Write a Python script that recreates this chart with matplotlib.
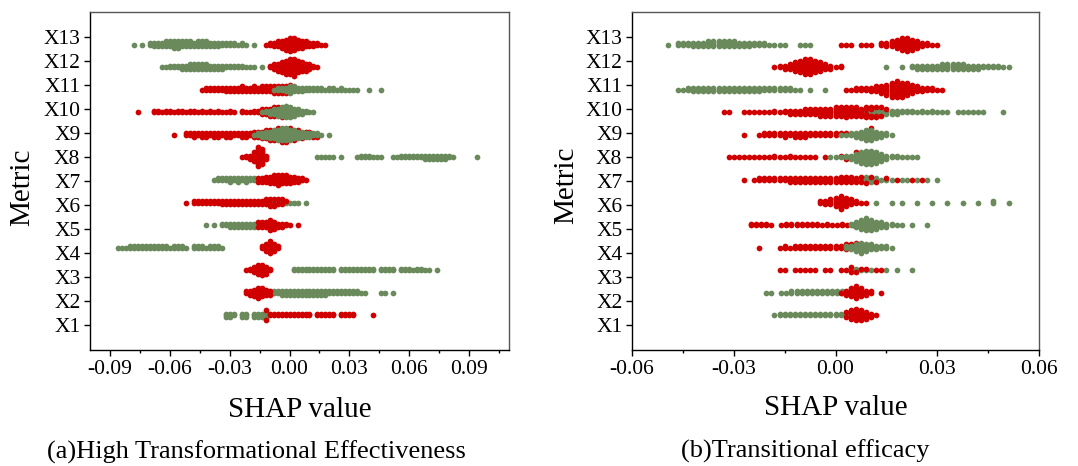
import numpy as np
import matplotlib.pyplot as plt
from matplotlib.ticker import MultipleLocator, FormatStrFormatter

plt.rcParams['font.family'] = ['Liberation Serif', 'DejaVu Serif']
plt.rcParams['axes.unicode_minus'] = False

metrics = ["X1", "X2", "X3", "X4", "X5", "X6", "X7", "X8", "X9", "X10", "X11", "X12", "X13"]

GREEN = "#6a8a5c"
RED = "#d00000"

# (a) High Transformational Effectiveness -- bin width 0.002
# each cluster: first bin centre + number of points in each following bin
step_a = 0.002
a_green_start = [-0.032, -0.010, 0.002, -0.086, -0.042, -0.012, -0.038, 0.014, -0.018, -0.014, -0.008, -0.064, -0.078]
a_green_counts = [
    [3, 3, 2, 0, 3, 3, 0, 3, 3, 3, 5],
    [1, 2, 2] + [3] * 12 + [2] * 8 + [1, 1, 0, 0, 0, 1, 1, 0, 1],
    [2] * 11 + [0] + [2] * 9 + [0] + [2] * 4 + [0] + [2, 2, 2, 1, 2, 2, 1, 1, 0, 1],
    [1, 1, 1, 2, 2, 2, 2, 2, 2, 2, 2, 2, 2, 1, 2, 2, 2, 1, 0, 2, 2, 2, 1, 2, 2, 2, 1],
    [1, 0, 1, 0, 2, 2, 3, 3, 3, 3, 3, 3, 3, 2, 1],
    [1, 2, 2, 2, 2, 1, 1, 1, 1, 0, 1],
    [1, 2, 2, 2, 3, 2, 3, 2, 3, 2, 2, 1],
    [1, 1, 1, 1, 1, 0, 1, 0, 0, 0, 1, 2, 2, 2, 1, 1, 1, 0, 0, 1, 1, 2, 2, 2, 2, 2, 2,
     3, 3, 3, 3, 3, 3, 2, 1, 0, 0, 0, 0, 0, 1],
    [1, 2, 3, 4, 5, 6, 7, 8, 8, 7, 6, 5, 4, 3, 3, 2, 2, 1, 0, 1],
    [1, 2, 3, 4, 5, 6, 8, 7, 5, 4, 3, 2, 1, 1],
    [1, 2, 2, 3, 5, 4, 3, 3, 2, 2, 2, 2, 2, 1, 2, 2, 1, 2, 1, 1, 1, 1, 0, 0, 1, 0, 0, 1],
    [1, 1, 2, 2, 2, 3, 3, 4, 4, 4, 4, 4, 3, 3, 3, 3, 2, 2, 2, 2, 2, 1, 1, 1, 0, 1],
    [1, 0, 1, 0, 2, 3, 3, 3, 4, 4, 5, 5, 4, 4, 4, 3, 4, 4, 4, 3, 3, 3, 2, 2, 2, 2, 1, 2, 1, 0, 1],
]
a_red_start = [-0.012, -0.022, -0.022, -0.014, -0.016, -0.052, -0.016, -0.024, -0.058, -0.076, -0.044, -0.010, -0.012]
a_red_counts = [
    [2] * 12 + [0] + [2] * 5 + [0] + [2] * 4 + [0, 0, 0, 0, 1],
    [2, 3, 5, 7, 6, 4, 2],
    [1, 2, 4, 6, 7, 5, 2],
    [2, 5, 8, 5, 2],
    [2, 3, 4, 7, 5, 3, 3, 2, 1, 0, 1],
    [1, 0, 2, 2, 2, 2, 2, 2, 2, 3, 3, 3, 3, 3, 3, 3, 3, 3, 3, 3, 3, 3, 3, 2, 2, 1],
    [2, 3, 4, 5, 6, 7, 6, 6, 5, 4, 3, 2, 1],
    [1, 2, 3, 6, 12, 10, 3],
    [1, 0, 0, 2, 2, 3, 2, 3, 3, 2, 3, 3, 2, 3, 3, 2, 2, 3, 3, 2, 3, 2, 2, 2, 2] + [1] * 12,
    [1, 0, 0, 0, 2, 2, 1, 2, 2, 1, 2, 2, 1, 2, 2, 1, 2, 1, 2, 1, 2, 1, 1, 2, 1, 0, 2, 1, 1,
     2, 2, 3, 2, 2, 2, 1, 1],
    [1, 2, 2, 2, 2, 2, 3, 3, 3, 3, 4, 3, 3, 4, 3, 4, 4, 4, 4, 3, 3, 2, 1],
    [2, 4, 5, 7, 9, 10, 11, 8, 6, 5, 4, 2, 1],
    [1, 2, 3, 4, 5, 7, 9, 8, 6, 5, 4, 3, 3, 2, 1, 1],
]
a_green_on_top = ["X9", "X10", "X11"]

# (b) Transitional efficacy -- bin width 0.0015
step_b = 0.0015
b_green_start = [-0.018, -0.0205, 0.0045, 0.003, 0.0045, 0.012, 0.0075, -0.0015, 0.0015, 0.009, -0.0465, 0.015, -0.0495]
b_green_counts = [
    [1, 2, 2, 2, 2, 2, 2, 2, 2, 2, 2, 2, 2, 2, 2, 1],
    [1, 1, 0, 1, 1, 2, 2, 2, 2, 2, 2, 2, 2, 2, 2, 2, 1, 1],
    [2, 2, 1, 1, 1, 0, 0, 1, 0, 1, 0, 0, 1],
    [2, 3, 5, 7, 5, 4, 3, 2, 2, 1],
    [2, 4, 6, 8, 7, 5, 4, 3, 2, 1, 1, 0, 1, 0, 0, 1],
    [1, 0, 0, 1, 0, 1, 0, 0, 1, 0, 0, 1, 0, 0, 1, 0, 0, 1, 0, 0, 1, 0, 0, 2, 0, 0, 1],
    [2, 4, 3, 2, 1, 1, 1, 0, 1, 1, 0, 1, 0, 1, 0, 1],
    [1, 1, 1, 2, 3, 5, 7, 9, 9, 7, 5, 3, 2, 2, 1, 1, 1, 1],
    [1, 1, 2, 3, 5, 7, 7, 5, 3, 2, 1],
    [2, 3, 4, 4, 3, 3, 3, 2, 2, 2, 1, 2, 1, 2, 1, 1, 1, 0, 1, 1, 1, 1, 1, 1, 0, 0, 0, 1],
    [1, 1, 2, 3, 3, 3, 3, 3, 3, 3, 3, 3, 3, 3, 3, 3, 3, 2, 2, 2, 2, 2, 2, 1, 1, 0, 1, 0, 0, 1],
    [1, 0, 0, 1, 0, 2, 3, 3, 3, 3, 3, 4, 4, 4, 4, 4, 3, 3, 3, 2, 2, 2, 2, 1, 1],
    [1, 0, 2, 2, 2, 3, 3, 3, 4, 4, 4, 4, 4, 4, 3, 3, 3, 2, 2, 2, 1, 1, 1, 1, 0, 0, 1, 1, 1],
]
b_red_start = [0.003, 0.0015, -0.0165, -0.0225, -0.025, -0.0045, -0.027, -0.0315, -0.027, -0.033, 0.003, -0.018, 0.0015]
b_red_counts = [
    [2, 5, 8, 7, 5, 3, 1],
    [1, 3, 6, 8, 6, 3, 2, 0, 1],
    [1, 1, 0, 1, 1, 1, 1, 1, 0, 1, 1, 0, 1, 1, 2, 1, 1, 1, 0, 1, 1],
    [1, 0, 0, 0, 1, 2, 1, 2, 2, 2, 2, 2, 2, 2, 2, 2, 2, 2, 1, 1],
    [2, 2, 2, 2, 1, 0, 1, 2, 2, 2, 2, 2, 2, 2, 1, 2, 1, 1, 2, 1, 1],
    [2, 3, 4, 6, 9, 6, 4, 2, 1, 1],
    [1, 0, 1, 2, 2, 2, 2, 2, 2, 3, 3, 3, 3, 3, 3, 3, 3, 3, 3, 4, 4, 4, 3, 2, 1, 1, 1, 0, 1, 0,
     1, 0, 0, 1, 0, 1],
    [1, 1, 1, 1, 1, 1, 1, 1, 1, 2, 1, 1, 2, 1, 1, 1, 1, 1, 0, 1, 0, 0, 1, 1, 0, 1],
    [1, 0, 0, 1, 2, 2, 2, 2, 3, 2, 3, 3, 3, 2, 2, 2, 2, 2, 2, 1, 1, 0, 0, 0, 0, 1],
    [1, 1, 0, 0, 1, 1, 1, 1, 1, 1, 2, 1, 2, 3, 3, 3, 4, 4, 4, 5, 5, 5, 6, 6, 7, 6, 6, 5, 5, 4,
     3, 2, 1],
    [1, 1, 2, 2, 2, 3, 4, 5, 7, 9, 10, 9, 8, 6, 4, 3, 2, 2, 1, 1],
    [1, 2, 3, 4, 6, 8, 10, 10, 8, 6, 4, 3, 1, 2],
    [1, 1, 1, 0, 1, 1, 1, 0, 2, 3, 4, 6, 8, 9, 7, 5, 3, 2, 1, 1],
]
b_green_on_top = ["X8", "X9", "X5", "X4"]

# swarm rows sit a bit off the tick marks in the original figure
row_first = 1.40
row_gap = 0.94
layer_h = 0.07


def draw_swarm(ax, step, g_start, g_counts, r_start, r_counts, green_top):
    for i, name in enumerate(metrics):
        y0 = row_first + row_gap * i
        filled = {}
        pts = {GREEN: ([], []), RED: ([], [])}
        for start, counts, col in ((g_start[i], g_counts[i], GREEN), (r_start[i], r_counts[i], RED)):
            for k, c in enumerate(counts):
                x = start + k * step
                key = round(x * 1e5)
                for _ in range(c):
                    n = filled.get(key, 0)
                    off = np.ceil(n / 2) * (1 if n % 2 else -1)
                    filled[key] = n + 1
                    pts[col][0].append(x)
                    pts[col][1].append(y0 + off * layer_h)
        z_green = 3 if name in green_top else 2
        ax.scatter(pts[GREEN][0], pts[GREEN][1], s=17, c=GREEN, linewidths=0, zorder=z_green)
        ax.scatter(pts[RED][0], pts[RED][1], s=17, c=RED, linewidths=0, zorder=2.5)


def style_axes(ax, xlim, major):
    ax.set_xlim(*xlim)
    ax.set_ylim(-0.04, 14.04)
    ax.xaxis.set_major_locator(MultipleLocator(major))
    ax.xaxis.set_minor_locator(MultipleLocator(major / 2))
    ax.xaxis.set_major_formatter(FormatStrFormatter('%.2f'))
    ax.set_yticks(range(1, 14))
    ax.set_yticklabels(metrics)
    ax.tick_params(axis='both', which='major', direction='out', length=4, width=1,
                   labelsize=15.5, pad=3, top=False, right=False)
    ax.tick_params(axis='x', which='minor', direction='out', length=2.5, width=1, top=False)
    for sp in ax.spines.values():
        sp.set_linewidth(1)
    ax.spines['top'].set_color('#555555')
    ax.spines['right'].set_color('#555555')


fig = plt.figure(figsize=(10.78, 4.66), dpi=100)
ax_a = fig.add_axes([0.0835, 0.2489, 0.3887, 0.7253])
ax_b = fig.add_axes([0.5863, 0.2489, 0.3776, 0.7253])

draw_swarm(ax_a, step_a, a_green_start, a_green_counts, a_red_start, a_red_counts, a_green_on_top)
draw_swarm(ax_b, step_b, b_green_start, b_green_counts, b_red_start, b_red_counts, b_green_on_top)
style_axes(ax_a, (-0.10, 0.11), 0.03)
style_axes(ax_b, (-0.06, 0.06), 0.03)

fig.text(300 / 1078, 1 - 410 / 466, "SHAP value", ha='center', va='center', fontsize=21)
fig.text(836 / 1078, 1 - 408 / 466, "SHAP value", ha='center', va='center', fontsize=21)
fig.text(22 / 1078, 1 - 187 / 466, "Metric", ha='center', va='center', rotation=90, fontsize=21)
fig.text(566 / 1078, 1 - 185 / 466, "Metric", ha='center', va='center', rotation=90, fontsize=21)
fig.text(256 / 1078, 1 - 452 / 466, "(a)High Transformational Effectiveness", ha='center', va='center', fontsize=19)
fig.text(805 / 1078, 1 - 451 / 466, "(b)Transitional efficacy", ha='center', va='center', fontsize=19)

fig.savefig("out.png", dpi=100)
